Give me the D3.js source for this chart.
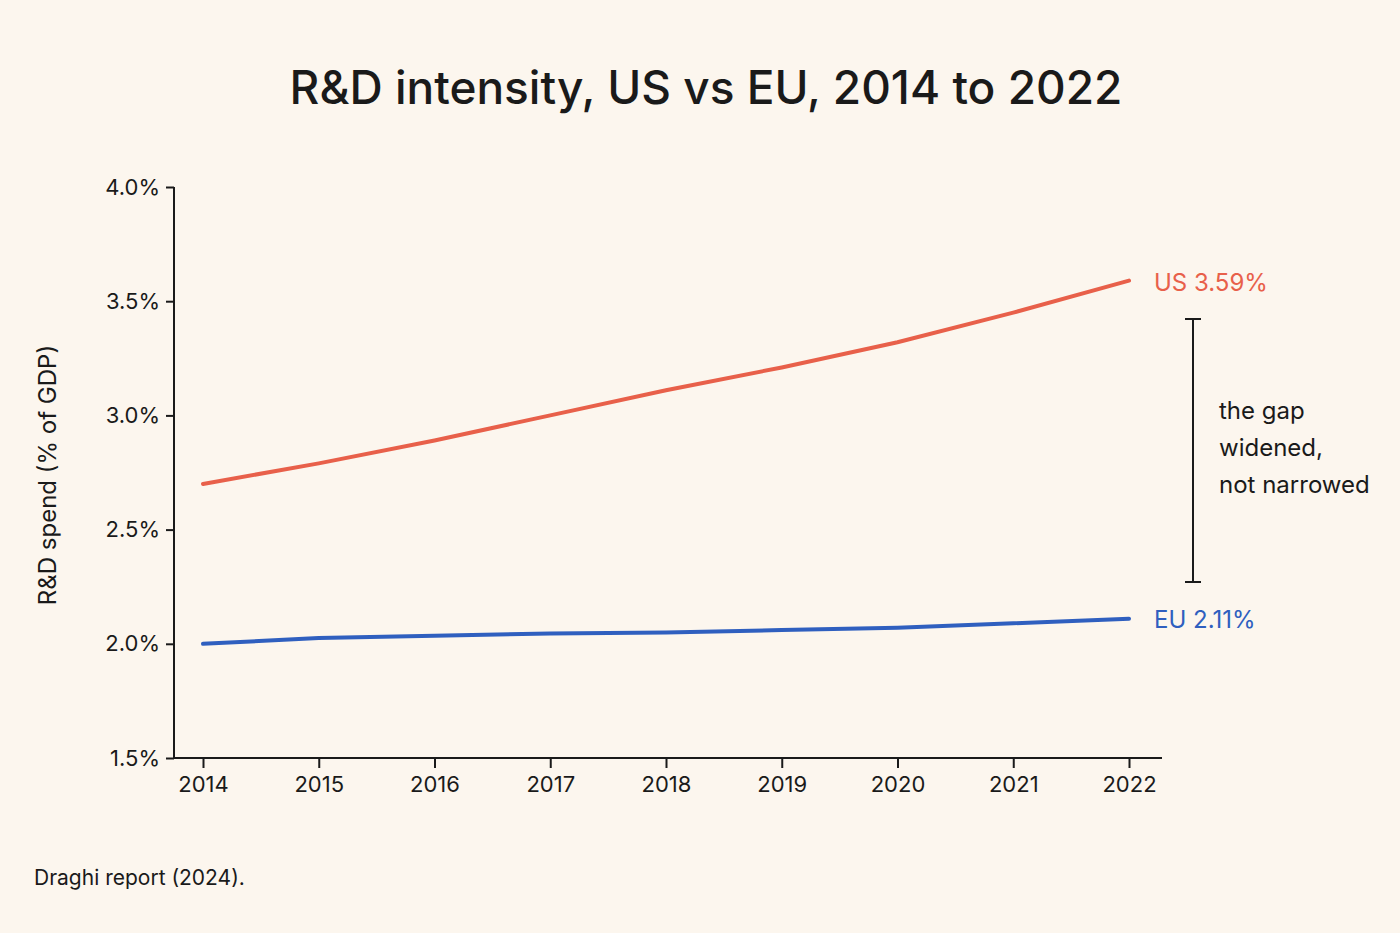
<!DOCTYPE html>
<html><head><meta charset="utf-8">
<script src="https://cdn.jsdelivr.net/npm/d3@7"></script>
<style>body{margin:0;background:#fcf6ee;}svg{display:block;font-family:Inter,"Open Sans",sans-serif;}</style>
</head><body><svg id="c" width="1400" height="933"></svg>
<script>
const years=[2014,2015,2016,2017,2018,2019,2020,2021,2022];
const usValues=[2.70,2.79,2.89,3.00,3.11,3.21,3.32,3.45,3.59];
const euValues=[2.00,2.025,2.035,2.045,2.05,2.06,2.07,2.09,2.11];
const yTicks=[1.5,2.0,2.5,3.0,3.5,4.0];
const svg=d3.select("#c");
svg.append("rect").attr("width",1400).attr("height",933).attr("fill","#fcf6ee");
const x=d3.scaleLinear().domain([2014,2022]).range([203,1129]);
const y=d3.scaleLinear().domain([1.5,4.0]).range([758,187]);
const ink="#1a1a1a";
svg.append("text").attr("x",706).attr("y",104).attr("text-anchor","middle").attr("font-size",46).attr("font-weight",500).attr("fill",ink).text("R&D intensity, US vs EU, 2014 to 2022");
const ya=svg.append("g").attr("transform","translate(174,0)").call(d3.axisLeft(y).tickValues(yTicks).tickFormat(d=>d.toFixed(1)+"%").tickSize(8).tickPadding(6));
ya.select(".domain").attr("d","M0,187V758").attr("stroke",ink).attr("stroke-width",2);
ya.selectAll("line").attr("stroke",ink).attr("stroke-width",2);
ya.selectAll("text").attr("font-size",22).attr("fill",ink).attr("font-family","Inter,'Open Sans',sans-serif");
const xa=svg.append("g").attr("transform","translate(0,758)").call(d3.axisBottom(x).tickValues(years).tickFormat(d3.format("d")).tickSize(10).tickPadding(8));
xa.select(".domain").attr("d","M174,0H1162").attr("stroke",ink).attr("stroke-width",2);
xa.selectAll("line").attr("stroke",ink).attr("stroke-width",2);
xa.selectAll("text").attr("font-size",22).attr("fill",ink).attr("font-family","Inter,'Open Sans',sans-serif");
svg.append("text").attr("transform","translate(56,475) rotate(-90)").attr("text-anchor","middle").attr("font-size",24).attr("fill",ink).text("R&D spend (% of GDP)");
const line=d3.line().x((d,i)=>x(years[i])).y(d=>y(d));
svg.append("path").datum(usValues).attr("d",line).attr("fill","none").attr("stroke","#e8604a").attr("stroke-width",4).attr("stroke-linecap","round");
svg.append("path").datum(euValues).attr("d",line).attr("fill","none").attr("stroke","#2f5fbf").attr("stroke-width",4).attr("stroke-linecap","round");
svg.append("text").attr("x",1154).attr("y",y(3.59)+2).attr("dy","0.35em").attr("font-size",24).attr("fill","#e8604a").text("US 3.59%");
svg.append("text").attr("x",1154).attr("y",y(2.11)+1).attr("dy","0.35em").attr("font-size",24).attr("fill","#2f5fbf").text("EU 2.11%");
const b=svg.append("g").attr("stroke",ink).attr("stroke-width",2);
b.append("line").attr("x1",1193).attr("x2",1193).attr("y1",319).attr("y2",582);
b.append("line").attr("x1",1185).attr("x2",1201).attr("y1",319).attr("y2",319);
b.append("line").attr("x1",1185).attr("x2",1201).attr("y1",582).attr("y2",582);
["the gap","widened,","not narrowed"].forEach((t,i)=>svg.append("text").attr("x",1219).attr("y",419+i*37).attr("font-size",24).attr("fill",ink).text(t));
svg.append("text").attr("x",34).attr("y",885).attr("font-size",21).attr("fill",ink).text("Draghi report (2024).");
</script></body></html>
